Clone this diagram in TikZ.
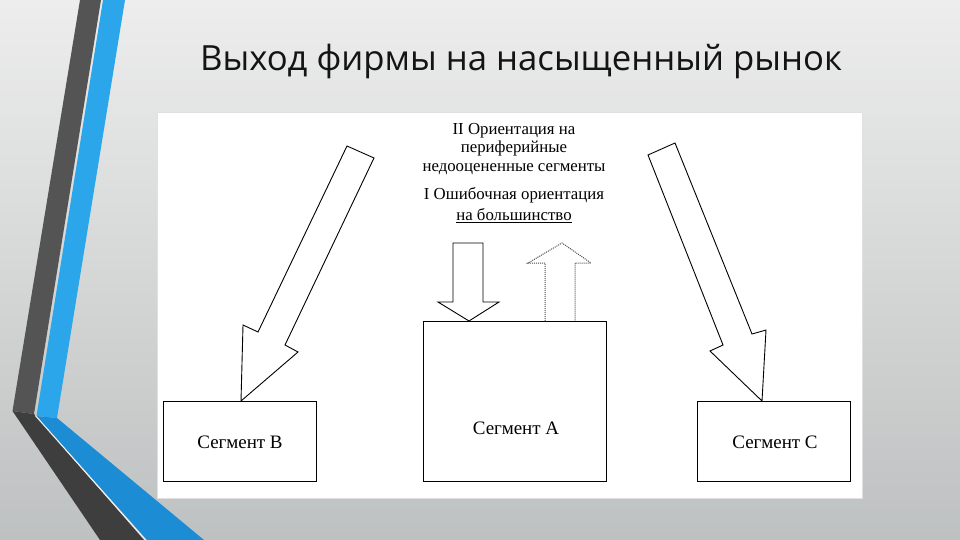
\documentclass[tikz,border=0pt]{standalone}
\usepackage{fontspec}
\setmainfont{Liberation Serif}
\newfontfamily\titlefont{Open Sans}
\definecolor{bgtop}{HTML}{EDEDED}
\definecolor{bgbot}{HTML}{BEC1C1}
\definecolor{darkup}{HTML}{545454}
\definecolor{darklow}{HTML}{3E3E3E}
\definecolor{blueup}{HTML}{2BA6EA}
\definecolor{bluelow}{HTML}{1C8DD4}
\begin{document}
\begin{tikzpicture}[x=1pt,y=-1pt,
  segbox/.style={draw=black, line width=1.2pt, fill=white, inner sep=0pt},
  segtext/.style={font=\fontsize{19}{22}\selectfont, inner sep=0pt},
  blockarrow/.style={draw=black, line width=0.9pt, fill=white, line join=miter},
  dotarrow/.style={draw=black!70, densely dotted, line width=1pt},
  txt/.style={font=\fontsize{16.8}{18.5}\selectfont, align=center, inner sep=0pt}]
\useasboundingbox (0,0) rectangle (960,540);
% background
\shade[top color=bgtop, bottom color=bgbot] (0,0) rectangle (960,540);
% decorative bars
\fill[darkup] (80,0) -- (101,0) -- (34,414) -- (12.5,411) -- cycle;
\fill[darklow] (12.5,411) -- (34,414) -- (144,540) -- (100,540) -- cycle;
\fill[blueup] (103,0) -- (125,0) -- (57,418) -- (36.5,416) -- cycle;
\fill[bluelow] (36.5,416) -- (57,418) -- (204,540) -- (147,540) -- cycle;
\draw[white!90!gray, line width=1pt] (35.3,415.5) -- (145.5,540);
% title
\node[font=\titlefont\fontsize{34.7}{40}\selectfont, text=black!92, inner sep=0pt] (title) at (521,61) {Выход фирмы на насыщенный рынок};
% white panel
\node[draw=black!12, fill=white, minimum width=705pt, minimum height=386pt, anchor=north west, inner sep=0pt] (panel) at (157,112) {};
% boxes
\node[segbox, minimum width=153pt, minimum height=80pt, anchor=north west] (B) at (163,401) {};
\node[segbox, minimum width=183pt, minimum height=160pt, anchor=north west] (A) at (423,321) {};
\node[segbox, minimum width=153pt, minimum height=80pt, anchor=north west] (C) at (697,401) {};
\node[segtext] (tB) at (240,442) {Сегмент В};
\node[segtext] (tA) at (516,428) {Сегмент А};
\node[segtext] (tC) at (775,442) {Сегмент С};
% texts
\node[txt] (t2) at (514,149) {II Ориентация на\\[0pt] периферийные\\[0pt] недооцененные сегменты};
\node[txt] (t1) at (514,205) {I Ошибочная ориентация\\[2pt] \underline{на большинство}};
% big arrows
\draw[blockarrow] (347,146) -- (258,332) -- (243,325) -- (B.north -| 241,0) -- (298,352) -- (285,345) -- (374,158) -- cycle;
\draw[blockarrow] (648,155) -- (723,345) -- (710,351) -- (C.north -| 762,0) -- (766,330) -- (752,334) -- (675,143) -- cycle;
% small arrows
\draw[blockarrow] (453,243) -- (483,243) -- (483,302) -- (499,302) -- (A.north -| 469,0) -- (438,302) -- (453,302) -- cycle;
\draw[dotarrow] (A.north -| 545,0) -- (545,263) -- (528,263) -- (562,243) -- (591,263) -- (575,263) -- (A.north -| 575,0);
\end{tikzpicture}
\end{document}
